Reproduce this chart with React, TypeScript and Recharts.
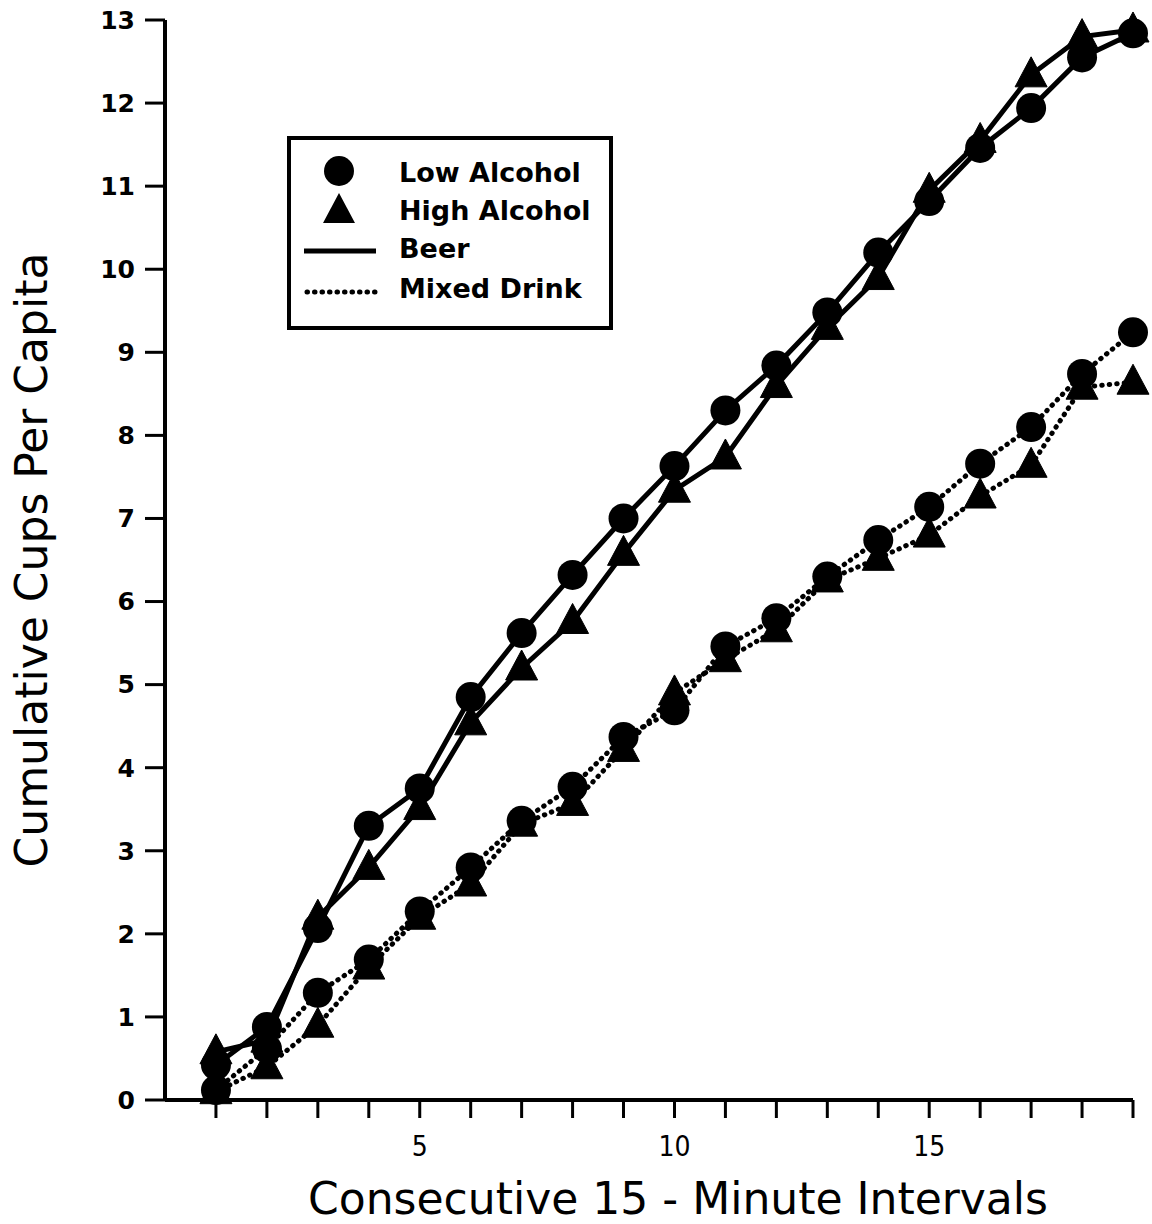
import React from 'react';
import { LineChart, Line, XAxis, YAxis, Legend } from 'recharts';

const intervals = [1, 2, 3, 4, 5, 6, 7, 8, 9, 10, 11, 12, 13, 14, 15, 16, 17, 18, 19];
const beerLow = [0.42, 0.88, 2.07, 3.3, 3.75, 4.85, 5.62, 6.32, 7.0, 7.63, 8.3, 8.84, 9.48, 10.2, 10.82, 11.46, 11.94, 12.55, 12.84];
const beerHigh = [0.58, 0.72, 2.2, 2.8, 3.52, 4.54, 5.2, 5.76, 6.58, 7.34, 7.74, 8.6, 9.3, 9.9, 10.95, 11.55, 12.34, 12.8, 12.88];
const mixedLow = [0.12, 0.62, 1.29, 1.69, 2.27, 2.8, 3.36, 3.77, 4.37, 4.69, 5.46, 5.8, 6.3, 6.74, 7.14, 7.66, 8.1, 8.74, 9.24];
const mixedHigh = [0.1, 0.4, 0.9, 1.6, 2.2, 2.6, 3.32, 3.57, 4.22, 4.9, 5.3, 5.66, 6.26, 6.52, 6.8, 7.27, 7.64, 8.58, 8.64];
const yTicks = [0, 1, 2, 3, 4, 5, 6, 7, 8, 9, 10, 11, 12, 13];
const xLabeled = [5, 10, 15];
const legendLabels = ['Low Alcohol', 'High Alcohol', 'Beer', 'Mixed Drink'];

const data = intervals.map((x, i) => ({
  x,
  beerLow: beerLow[i],
  beerHigh: beerHigh[i],
  mixedLow: mixedLow[i],
  mixedHigh: mixedHigh[i],
}));

const Triangle = (props: any) => {
  const { cx, cy } = props;
  if (cx == null || cy == null) return null;
  return <polygon points={`${cx},${cy - 18} ${cx - 16},${cy + 12} ${cx + 16},${cy + 12}`} fill="#000" stroke="#000" strokeWidth={1} strokeLinejoin="round" />;
};
const Circle = (props: any) => {
  const { cx, cy } = props;
  if (cx == null || cy == null) return null;
  return <circle cx={cx} cy={cy} r={15} fill="#000" />;
};

const DOTTED = '0.5 7';

const LegendBox = () => (
  <svg width={326} height={194} style={{ display: 'block' }}>
    <rect x={2} y={2} width={322} height={190} fill="#fff" stroke="#000" strokeWidth={4} />
    <circle cx={52} cy={35} r={15} fill="#000" />
    <polygon points="52,57 36,87 68,87" fill="#000" strokeLinejoin="round" />
    <line x1={17} x2={89} y1={115} y2={115} stroke="#000" strokeWidth={5} />
    <line x1={20} x2={89} y1={156} y2={156} stroke="#000" strokeWidth={5} strokeDasharray={DOTTED} strokeLinecap="round" />
    {legendLabels.map((t, i) => (
      <text key={t} x={112} y={[46, 84, 122, 162][i]} fontFamily="DejaVu Sans" fontWeight="bold" fontSize={27} fill="#000">
        {t}
      </text>
    ))}
  </svg>
);

export default function App() {
  return (
    <div style={{ position: 'absolute', left: 0, top: 0, width: 1152, height: 1224, background: '#fff' }}>
      <LineChart width={1152} height={1224} data={data} margin={{ top: 20, right: 19, bottom: 0, left: 0 }}>
        <XAxis
          dataKey="x"
          type="number"
          domain={[0, 19]}
          ticks={intervals}
          interval={0}
          tickFormatter={(v: number) => (xLabeled.includes(v) ? String(v) : '')}
          height={124}
          axisLine={{ stroke: '#000', strokeWidth: 4 }}
          tickLine={{ stroke: '#000', strokeWidth: 3 }}
          tickSize={18}
          tickMargin={18}
          tick={{ fill: '#000', fontSize: 28, fontFamily: 'DejaVu Sans Condensed' }}
          label={{
            content: () => (
              <text x={678} y={1214} textAnchor="middle" fontFamily="DejaVu Sans Condensed" fontSize={44} fill="#000" textLength={740} lengthAdjust="spacingAndGlyphs">
                Consecutive 15 - Minute Intervals
              </text>
            ),
          }}
        />
        <YAxis
          type="number"
          domain={[0, 13]}
          ticks={yTicks}
          interval={0}
          width={165}
          axisLine={{ stroke: '#000', strokeWidth: 4 }}
          tickLine={{ stroke: '#000', strokeWidth: 3 }}
          tickSize={20}
          tickMargin={10}
          tick={{ fill: '#000', fontSize: 25, fontWeight: 'bold', fontFamily: 'DejaVu Sans' }}
          label={{
            content: () => (
              <text x={47} y={560} transform="rotate(-90 47 560)" textAnchor="middle" fontFamily="DejaVu Sans Condensed" fontSize={44} fill="#000" textLength={615} lengthAdjust="spacingAndGlyphs">
                Cumulative Cups Per Capita
              </text>
            ),
          }}
        />
        <Legend
          layout="horizontal"
          verticalAlign="middle"
          align="center"
          content={() => <LegendBox />}
          wrapperStyle={{ position: 'absolute', left: 287, top: 136, width: 326, height: 194 }}
        />
        <Line dataKey="mixedHigh" stroke="#000" strokeWidth={5} strokeDasharray={DOTTED} strokeLinecap="round" dot={<Triangle />} isAnimationActive={false} />
        <Line dataKey="mixedLow" stroke="#000" strokeWidth={5} strokeDasharray={DOTTED} strokeLinecap="round" dot={<Circle />} isAnimationActive={false} />
        <Line dataKey="beerHigh" stroke="#000" strokeWidth={5} dot={<Triangle />} isAnimationActive={false} />
        <Line dataKey="beerLow" stroke="#000" strokeWidth={5} dot={<Circle />} isAnimationActive={false} />
      </LineChart>
    </div>
  );
}
